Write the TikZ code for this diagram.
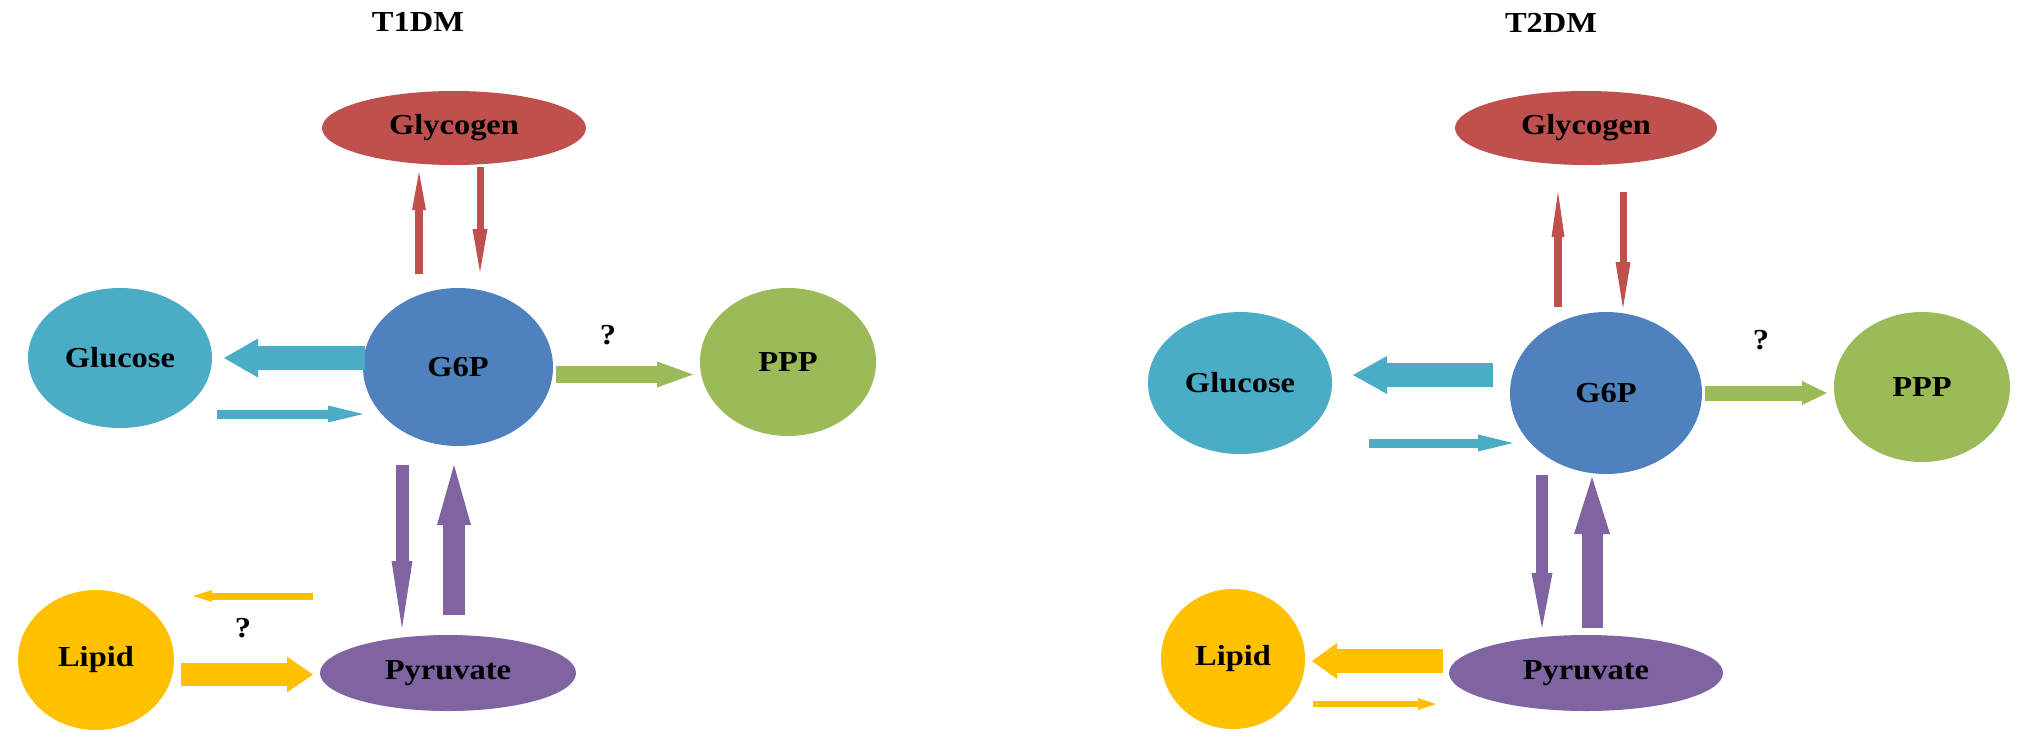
\documentclass[tikz,border=0pt]{standalone}
\usepackage{fontspec}
\newfontfamily\labfont[FakeStretch=1.12]{Liberation Serif}
\usetikzlibrary{shapes.geometric,arrows.meta}
\definecolor{cRed}{HTML}{C0504D}
\definecolor{cBlue}{HTML}{4F81BD}
\definecolor{cCyan}{HTML}{4BACC6}
\definecolor{cGreen}{HTML}{9BBB59}
\definecolor{cOrange}{HTML}{FFC000}
\definecolor{cPurple}{HTML}{8064A2}
\begin{document}
\begin{tikzpicture}[x=1pt,y=-1pt,
  txt/.style={font=\labfont\bfseries\fontsize{29}{29}\selectfont, text=black, inner sep=0pt},
  blob/.style={ellipse, inner sep=0pt, draw=none, txt},
  flow/.style n args={4}{draw=#1, line width=#2pt,
    -{Triangle[width=#3pt, length=#4pt, line width=0pt]}}
]
\useasboundingbox (0,0) rectangle (2031,748);

% ---------- T1DM ----------
\node[txt] (t1) at (418,22) {T1DM};
\node[blob, fill=cRed,    minimum width=264pt, minimum height=74pt]  (Lgly) at (454,128) {Glycogen};
\node[blob, fill=cBlue,   minimum width=190pt, minimum height=158pt] (Lg6p) at (458,367) {G6P};
\node[blob, fill=cCyan,   minimum width=184pt, minimum height=140pt] (Lglu) at (120,358) {Glucose};
\node[blob, fill=cGreen,  minimum width=176pt, minimum height=148pt] (Lppp) at (788,362) {PPP};
\node[blob, fill=cOrange, minimum width=156pt, minimum height=140pt] (Llip) at (96,660)  {Lipid};
\node[blob, fill=cPurple, minimum width=256pt, minimum height=76pt]  (Lpyr) at (448,673) {Pyruvate};
\node[txt] (Lq1) at (608,335) {?};
\node[txt] (Lq2) at (243,628) {?};

\coordinate (Lru0) at (419,274); \coordinate (Lru1) at (419,172);
\coordinate (Lrd0) at (480,167); \coordinate (Lrd1) at (480,272);
\coordinate (Lcb0) at (365,358); \coordinate (Lcb1) at (224,358);
\coordinate (Lcs0) at (217,414); \coordinate (Lcs1) at (363,414);
\coordinate (Lgr0) at (556,374.5); \coordinate (Lgr1) at (693,374.5);
\coordinate (Lpd0) at (402,465); \coordinate (Lpd1) at (402,628);
\coordinate (Lpu0) at (454,615); \coordinate (Lpu1) at (454,465);
\coordinate (Los0) at (313,596); \coordinate (Los1) at (193,596);
\coordinate (Lob0) at (181,674.5); \coordinate (Lob1) at (313,674.5);

\draw[flow={cRed}{8}{14}{38}]    (Lru0) -- (Lru1);
\draw[flow={cRed}{7}{15}{43}]    (Lrd0) -- (Lrd1);
\draw[flow={cCyan}{24}{39}{34}]  (Lcb0) -- (Lcb1);
\draw[flow={cCyan}{9}{17}{35}]   (Lcs0) -- (Lcs1);
\draw[flow={cGreen}{17}{26}{36}] (Lgr0) -- (Lgr1);
\draw[flow={cPurple}{13}{21}{67}] (Lpd0) -- (Lpd1);
\draw[flow={cPurple}{22}{34}{60}] (Lpu0) -- (Lpu1);
\draw[flow={cOrange}{7}{12}{19}] (Los0) -- (Los1);
\draw[flow={cOrange}{23}{36}{26}] (Lob0) -- (Lob1);

% ---------- T2DM ----------
\node[txt] (t2) at (1551,23) {T2DM};
\node[blob, fill=cRed,    minimum width=262pt, minimum height=74pt]  (Rgly) at (1586,128) {Glycogen};
\node[blob, fill=cBlue,   minimum width=192pt, minimum height=162pt] (Rg6p) at (1606,393) {G6P};
\node[blob, fill=cCyan,   minimum width=184pt, minimum height=142pt] (Rglu) at (1240,383) {Glucose};
\node[blob, fill=cGreen,  minimum width=176pt, minimum height=150pt] (Rppp) at (1922,387) {PPP};
\node[blob, fill=cOrange, minimum width=144pt, minimum height=140pt] (Rlip) at (1233,659) {Lipid};
\node[blob, fill=cPurple, minimum width=274pt, minimum height=76pt]  (Rpyr) at (1586,673) {Pyruvate};
\node[txt] (Rq1) at (1761,340) {?};

\coordinate (Rru0) at (1558,307); \coordinate (Rru1) at (1558,192);
\coordinate (Rrd0) at (1623,192); \coordinate (Rrd1) at (1623,308);
\coordinate (Rcb0) at (1493,375); \coordinate (Rcb1) at (1353,375);
\coordinate (Rcs0) at (1369,443); \coordinate (Rcs1) at (1513,443);
\coordinate (Rgr0) at (1705,393); \coordinate (Rgr1) at (1827,393);
\coordinate (Rpd0) at (1542,475); \coordinate (Rpd1) at (1542,628);
\coordinate (Rpu0) at (1592,628); \coordinate (Rpu1) at (1592,477);
\coordinate (Rob0) at (1443,661); \coordinate (Rob1) at (1312,661);
\coordinate (Ros0) at (1313,704); \coordinate (Ros1) at (1436,704);

\draw[flow={cRed}{8}{13}{45}]    (Rru0) -- (Rru1);
\draw[flow={cRed}{7}{15}{46}]    (Rrd0) -- (Rrd1);
\draw[flow={cCyan}{24}{38}{34}]  (Rcb0) -- (Rcb1);
\draw[flow={cCyan}{9}{17}{35}]   (Rcs0) -- (Rcs1);
\draw[flow={cGreen}{15}{24}{25}] (Rgr0) -- (Rgr1);
\draw[flow={cPurple}{12}{21}{55}] (Rpd0) -- (Rpd1);
\draw[flow={cPurple}{21}{36}{57}] (Rpu0) -- (Rpu1);
\draw[flow={cOrange}{24}{36}{25}] (Rob0) -- (Rob1);
\draw[flow={cOrange}{6}{12}{18}] (Ros0) -- (Ros1);
\end{tikzpicture}
\end{document}
